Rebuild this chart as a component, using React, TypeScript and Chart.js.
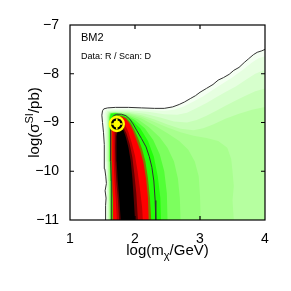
import React, { useEffect, useRef } from 'react';
import { Chart, registerables } from 'chart.js';

Chart.register(...registerables);

type Pt = [number, number];

const FONT = "'Liberation Sans', Arial, Helvetica, sans-serif";

const xRange: Pt = [1, 4];
const yRange: Pt = [-11, -7];
const bestFit: Pt = [1.72, -9.03];

const outerContour: Pt[] = [
  [1.54, -11], [1.55, -10.85], [1.545, -10.7], [1.555, -10.55], [1.54, -10.4], [1.56, -10.25],
  [1.55, -10.1], [1.535, -9.95], [1.53, -9.7], [1.525, -9.45], [1.515, -9.2], [1.5, -9.0],
  [1.49, -8.85], [1.5, -8.76], [1.52, -8.72], [1.58, -8.7], [1.7, -8.69], [1.9, -8.69],
  [2.1, -8.7], [2.3, -8.71], [2.45, -8.71], [2.58, -8.68], [2.68, -8.63], [2.76, -8.58],
  [2.85, -8.51], [2.93, -8.45], [3.0, -8.38], [3.1, -8.3], [3.2, -8.22], [3.28, -8.13],
  [3.36, -8.08], [3.45, -8.01], [3.52, -7.93], [3.6, -7.87], [3.68, -7.77], [3.75, -7.69],
  [3.82, -7.61], [3.88, -7.56], [3.95, -7.53], [4.0, -7.5],
];

const innerContour: Pt[] = [
  [1.645, -11], [1.64, -10.6], [1.632, -10.2], [1.625, -9.8], [1.622, -9.45], [1.625, -9.15],
  [1.64, -8.95], [1.67, -8.86], [1.72, -8.83], [1.79, -8.83], [1.86, -8.86], [1.92, -8.93],
  [1.97, -9.03], [2.03, -9.17], [2.1, -9.33], [2.17, -9.5], [2.22, -9.7], [2.26, -9.92],
  [2.29, -10.2], [2.31, -10.6], [2.32, -11],
];

const band0: Pt[] = [...outerContour, [4, -11]];
const band1: Pt[] = [
  [1.56, -11], [1.565, -10.6], [1.56, -10.2], [1.55, -9.8], [1.545, -9.4], [1.535, -9.0],
  [1.53, -8.82], [1.55, -8.75], [1.6, -8.73], [1.9, -8.73], [2.2, -8.745], [2.45, -8.76],
  [2.6, -8.74], [2.75, -8.67], [2.9, -8.57], [3.05, -8.46], [3.2, -8.33], [3.35, -8.2],
  [3.5, -8.07], [3.65, -7.93], [3.8, -7.77], [3.9, -7.68], [4, -7.64], [4, -11],
];
const band2: Pt[] = [
  [1.578, -11], [1.58, -10.6], [1.575, -10.2], [1.568, -9.8], [1.562, -9.4], [1.556, -9.0],
  [1.555, -8.82], [1.575, -8.765], [1.65, -8.75], [1.9, -8.755], [2.2, -8.78], [2.45, -8.83],
  [2.65, -8.84], [2.8, -8.8], [2.95, -8.7], [3.1, -8.6], [3.25, -8.48], [3.4, -8.37],
  [3.55, -8.26], [3.7, -8.13], [3.85, -8.0], [4, -7.92], [4, -11],
];
const band3: Pt[] = [
  [1.592, -11], [1.593, -10.6], [1.588, -10.2], [1.58, -9.8], [1.575, -9.4], [1.57, -9.0],
  [1.57, -8.85], [1.59, -8.78], [1.66, -8.77], [1.9, -8.78], [2.15, -8.82], [2.4, -8.9],
  [2.6, -8.98], [2.8, -9.0], [2.95, -8.95], [3.1, -8.86], [3.25, -8.76], [3.4, -8.65],
  [3.55, -8.55], [3.7, -8.45], [3.85, -8.36], [4, -8.3], [4, -11],
];
const band4: Pt[] = [
  [1.602, -11], [1.602, -10.6], [1.597, -10.2], [1.59, -9.8], [1.585, -9.4], [1.58, -9.0],
  [1.58, -8.86], [1.6, -8.795], [1.67, -8.785], [1.9, -8.8], [2.1, -8.85], [2.3, -8.94],
  [2.5, -9.04], [2.7, -9.13], [2.9, -9.16], [3.05, -9.12], [3.2, -9.04], [3.4, -8.92],
  [3.6, -8.82], [3.8, -8.74], [4, -8.68], [4, -11],
];
const band5: Pt[] = [
  [1.61, -11], [1.609, -10.6], [1.604, -10.2], [1.597, -9.8], [1.592, -9.4], [1.588, -9.0],
  [1.588, -8.87], [1.606, -8.8], [1.68, -8.79], [1.9, -8.81], [2.1, -8.88], [2.3, -8.99],
  [2.5, -9.1], [2.7, -9.2], [2.9, -9.27], [3.1, -9.32], [3.28, -9.38], [3.42, -9.52],
  [3.48, -9.75], [3.5, -10.0], [3.52, -10.3], [3.5, -10.6], [3.52, -11],
];
const band6: Pt[] = [
  [1.616, -11], [1.615, -10.6], [1.61, -10.2], [1.603, -9.8], [1.598, -9.4], [1.595, -9.0],
  [1.595, -8.88], [1.612, -8.805], [1.69, -8.795], [1.9, -8.83], [2.1, -8.92], [2.3, -9.06],
  [2.5, -9.22], [2.68, -9.38], [2.82, -9.56], [2.92, -9.8], [2.98, -10.1], [3.0, -10.5], [3.01, -11],
];
const band7: Pt[] = [
  [1.622, -11], [1.621, -10.6], [1.616, -10.2], [1.609, -9.8], [1.604, -9.4], [1.601, -9.0],
  [1.601, -8.885], [1.618, -8.81], [1.7, -8.8], [1.88, -8.84], [2.05, -8.94], [2.22, -9.1],
  [2.38, -9.3], [2.5, -9.52], [2.6, -9.8], [2.66, -10.15], [2.69, -10.55], [2.7, -11],
];
const band8: Pt[] = [
  [1.628, -11], [1.627, -10.6], [1.622, -10.2], [1.615, -9.8], [1.61, -9.4], [1.607, -9.0],
  [1.607, -8.89], [1.624, -8.815], [1.7, -8.805], [1.85, -8.845], [2.0, -8.95], [2.15, -9.12],
  [2.28, -9.36], [2.38, -9.65], [2.45, -10.0], [2.49, -10.45], [2.5, -11],
];
const band9: Pt[] = [
  [1.634, -11], [1.633, -10.6], [1.628, -10.2], [1.621, -9.8], [1.616, -9.4], [1.613, -9.0],
  [1.613, -8.895], [1.63, -8.82], [1.7, -8.81], [1.82, -8.85], [1.95, -8.95], [2.08, -9.12],
  [2.2, -9.38], [2.29, -9.7], [2.35, -10.1], [2.39, -10.55], [2.4, -11],
];
const band10: Pt[] = [
  [1.658, -11], [1.653, -10.6], [1.642, -10.2], [1.634, -9.8], [1.63, -9.45], [1.632, -9.15],
  [1.648, -8.95], [1.68, -8.87], [1.73, -8.85], [1.8, -8.86], [1.87, -8.91], [1.93, -9.0],
  [1.99, -9.15], [2.05, -9.33], [2.11, -9.55], [2.16, -9.8], [2.2, -10.15], [2.23, -10.55], [2.25, -11],
];
const band11: Pt[] = [
  [1.668, -11], [1.663, -10.6], [1.652, -10.2], [1.643, -9.8], [1.639, -9.45], [1.641, -9.15],
  [1.657, -8.97], [1.69, -8.89], [1.74, -8.87], [1.8, -8.88], [1.86, -8.93], [1.92, -9.03],
  [1.97, -9.17], [2.02, -9.35], [2.08, -9.57], [2.13, -9.82], [2.17, -10.15], [2.2, -10.55], [2.21, -11],
];
const band12: Pt[] = [
  [1.72, -11], [1.705, -10.6], [1.685, -10.2], [1.672, -9.8], [1.668, -9.45], [1.672, -9.2],
  [1.69, -9.02], [1.73, -8.96], [1.79, -8.97], [1.85, -9.05], [1.9, -9.2], [1.95, -9.42],
  [2.0, -9.68], [2.04, -10.0], [2.08, -10.4], [2.11, -10.75], [2.12, -11],
];
const band13: Pt[] = [
  [1.755, -11], [1.738, -10.6], [1.712, -10.2], [1.697, -9.8], [1.692, -9.5], [1.697, -9.25],
  [1.72, -9.08], [1.77, -9.04], [1.82, -9.09], [1.87, -9.23], [1.92, -9.45], [1.96, -9.72],
  [1.99, -10.05], [2.02, -10.45], [2.045, -11],
];
const band14: Pt[] = [
  [1.78, -11], [1.76, -10.6], [1.735, -10.2], [1.718, -9.8], [1.712, -9.5], [1.718, -9.28],
  [1.74, -9.13], [1.78, -9.1], [1.82, -9.15], [1.86, -9.3], [1.9, -9.52], [1.935, -9.8],
  [1.96, -10.15], [1.98, -10.55], [2.0, -11],
];

const bands: Pt[][] = [
  band0, band1, band2, band3, band4, band5, band6, band7, band8, band9, band10, band11, band12, band13, band14,
];
const bandColors: string[] = [
  '#f4fff2', '#e6ffe0', '#d6ffcc', '#c6ffb6', '#b6ffa0', '#a8ff8e', '#96ff7a', '#7cff5e',
  '#52ff36', '#22ff08', '#7a8000', '#ff0000', '#c00000', '#600000', '#000000',
];

const panelLabel = 'BM2';
const panelNote = 'Data: R / Scan: D';

const toXY = (pts: Pt[]) => pts.map(([x, y]) => ({ x, y }));
const fmtTick = (v: number | string) => {
  const n = Number(v);
  return n < 0 ? '\u2212' + Math.abs(n) : String(n);
};

type Part = { t: string; s: number; dy?: number };
function drawRich(ctx: CanvasRenderingContext2D, parts: Part[], x: number, y: number) {
  let total = 0;
  const widths = parts.map((p) => {
    ctx.font = `${p.s}px ${FONT}`;
    const w = ctx.measureText(p.t).width;
    total += w;
    return w;
  });
  let cx = x - total / 2;
  parts.forEach((p, i) => {
    ctx.font = `${p.s}px ${FONT}`;
    ctx.fillText(p.t, cx, y + (p.dy || 0));
    cx += widths[i];
  });
}

const decorPlugin = {
  id: 'decor',
  afterDraw(chart: any) {
    const { ctx, chartArea: a, scales } = chart;
    ctx.save();
    ctx.strokeStyle = '#000';
    ctx.lineWidth = 1.2;
    const tl = 4;
    ctx.beginPath();
    for (const t of scales.x.ticks) {
      const px = scales.x.getPixelForValue(t.value);
      if (px <= a.left + 1 || px >= a.right - 1) continue;
      ctx.moveTo(px, a.bottom);
      ctx.lineTo(px, a.bottom - tl);
      ctx.moveTo(px, a.top);
      ctx.lineTo(px, a.top + tl);
    }
    for (const t of scales.y.ticks) {
      const py = scales.y.getPixelForValue(t.value);
      if (py <= a.top + 1 || py >= a.bottom - 1) continue;
      ctx.moveTo(a.left, py);
      ctx.lineTo(a.left + tl, py);
      ctx.moveTo(a.right, py);
      ctx.lineTo(a.right - tl, py);
    }
    ctx.stroke();
    ctx.strokeRect(a.left, a.top, a.right - a.left, a.bottom - a.top);

    ctx.fillStyle = '#000';
    ctx.textBaseline = 'alphabetic';
    ctx.textAlign = 'left';
    ctx.font = `11px ${FONT}`;
    ctx.fillText(panelLabel, a.left + 11, a.top + 16);
    ctx.font = `9px ${FONT}`;
    ctx.fillText(panelNote, a.left + 11, a.top + 33.5);

    drawRich(
      ctx,
      [
        { t: 'log(m', s: 15 },
        { t: '\u03c7', s: 11, dy: 4 },
        { t: '/GeV)', s: 15 },
      ],
      (a.left + a.right) / 2,
      255
    );
    ctx.save();
    ctx.translate(38.5, (a.top + a.bottom) / 2);
    ctx.rotate(-Math.PI / 2);
    drawRich(
      ctx,
      [
        { t: 'log(\u03c3', s: 15 },
        { t: 'SI', s: 11, dy: -6 },
        { t: '/pb)', s: 15 },
      ],
      0,
      0
    );
    ctx.restore();
    ctx.restore();
  },
};

export default function App() {
  const ref = useRef<HTMLCanvasElement | null>(null);
  useEffect(() => {
    if (!ref.current) return;
    const datasets: any[] = [];
    bands.forEach((pts, i) => {
      datasets.push({
        data: toXY(pts),
        showLine: true,
        fill: 'shape',
        backgroundColor: bandColors[i],
        borderWidth: 0,
        borderColor: 'rgba(0,0,0,0)',
        pointRadius: 0,
        tension: 0,
        order: 100 - i,
      });
    });
    [outerContour, innerContour].forEach((pts) => {
      datasets.push({
        data: toXY(pts),
        showLine: true,
        fill: false,
        borderColor: '#333333',
        borderWidth: 1,
        pointRadius: 0,
        tension: 0,
        order: 10,
      });
    });
    datasets.push({
      data: toXY([bestFit]),
      showLine: false,
      pointRadius: 7,
      pointBackgroundColor: '#000000',
      pointBorderColor: '#ffff00',
      pointBorderWidth: 2.4,
      order: 4,
    });
    datasets.push({
      data: toXY([bestFit]),
      showLine: false,
      pointRadius: 3.4,
      pointBackgroundColor: '#ffff00',
      pointBorderWidth: 0,
      order: 3,
    });
    datasets.push({
      data: toXY([bestFit]),
      showLine: false,
      pointStyle: 'cross',
      pointRadius: 5.5,
      pointBorderColor: '#ffff00',
      pointBorderWidth: 1.6,
      order: 2,
    });

    const tickFont = { family: FONT, size: 14 };
    const chart = new Chart(ref.current, {
      type: 'scatter',
      data: { datasets },
      options: {
        responsive: false,
        animation: false,
        events: [],
        layout: { padding: 0, autoPadding: false },
        plugins: { legend: { display: false }, tooltip: { enabled: false } },
        scales: {
          x: {
            type: 'linear',
            position: 'bottom',
            min: xRange[0],
            max: xRange[1],
            ticks: { stepSize: 1, padding: 3, color: '#000', font: tickFont, callback: fmtTick, maxRotation: 0 },
            grid: { display: false },
            border: { display: false },
            afterFit: (s: any) => { s.height = 71; },
          },
          y: {
            type: 'linear',
            position: 'left',
            min: yRange[0],
            max: yRange[1],
            ticks: { stepSize: 1, padding: 3, color: '#000', font: tickFont, callback: fmtTick },
            grid: { display: false },
            border: { display: false },
            afterFit: (s: any) => { s.width = 70; },
          },
          x2: {
            type: 'linear',
            position: 'top',
            min: xRange[0],
            max: xRange[1],
            ticks: { display: false },
            grid: { display: false },
            border: { display: false },
            afterFit: (s: any) => { s.height = 25; },
          },
          y2: {
            type: 'linear',
            position: 'right',
            min: yRange[0],
            max: yRange[1],
            ticks: { display: false },
            grid: { display: false },
            border: { display: false },
            afterFit: (s: any) => { s.width = 26; },
          },
        },
      } as any,
      plugins: [decorPlugin],
    });
    return () => chart.destroy();
  }, []);
  return (
    <div style={{ position: 'fixed', left: 0, top: 0, width: 291, height: 291, background: '#fff' }}>
      <canvas ref={ref} width={291} height={291} style={{ display: 'block' }} />
    </div>
  );
}
